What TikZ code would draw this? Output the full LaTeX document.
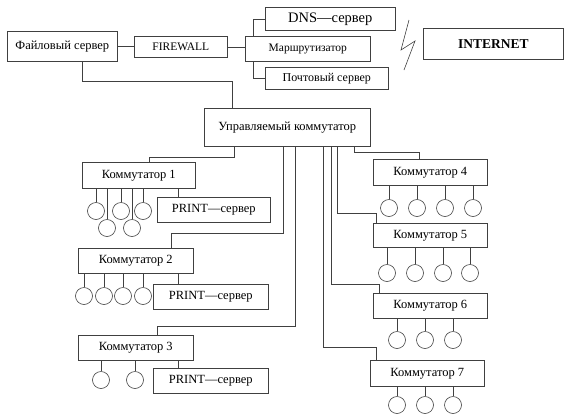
\documentclass[tikz,border=0pt]{standalone}
\usepackage{fontspec}
\setmainfont{Liberation Serif}
\begin{document}
\begin{tikzpicture}[x=1pt,y=-1pt,
  line width=0.6pt, draw=black!75,
  box/.style={draw=black!75, anchor=north west, inner sep=0pt, font=\fontsize{12.5}{14}\selectfont},
  smallbox/.style={box, font=\fontsize{11.5}{13}\selectfont},
  pc/.style={draw=black!75, circle, inner sep=0pt, minimum size=17pt},
  link/.style={draw=black!75, line width=0.6pt}]
\useasboundingbox (0,0) rectangle (565,413);
% top row
\node[box, minimum width=110pt, minimum height=30pt] (fs) at (7,31) {Файловый сервер};
\node[smallbox, minimum width=93pt, minimum height=21pt] (fw) at (134,36) {FIREWALL};
\node[smallbox, minimum width=125pt, minimum height=25pt] (rt) at (245,36) {Маршрутизатор};
\node[box, font=\fontsize{14.5}{16}\selectfont, minimum width=130pt, minimum height=23pt] (dns) at (265,7) {DNS—сервер};
\node[box, font=\fontsize{12}{14}\selectfont, minimum width=123pt, minimum height=22pt] (mail) at (265,67) {Почтовый сервер};
\node[box, font=\fontsize{13.5}{15}\selectfont\bfseries, minimum width=140pt, minimum height=31pt] (inet) at (423,28) {INTERNET};
\coordinate (z1) at (409,20);
\coordinate (z2) at (401,50);
\coordinate (z3) at (415,41);
\coordinate (z4) at (404,70);
\draw[link] (z1) -- (z2) -- (z3) -- (z4);
% main switch
\node[box, minimum width=166pt, minimum height=38pt] (upr) at (204,108) {Управляемый коммутатор};
% left switches
\node[box, minimum width=113pt, minimum height=26pt] (k1) at (82,162) {Коммутатор 1};
\node[box, minimum width=113pt, minimum height=25pt] (p1) at (157,197) {PRINT—сервер};
\node[box, minimum width=115pt, minimum height=25pt] (k2) at (78,248) {Коммутатор 2};
\node[box, minimum width=115pt, minimum height=25pt] (p2) at (153,284) {PRINT—сервер};
\node[box, minimum width=115pt, minimum height=25pt] (k3) at (78,335) {Коммутатор 3};
\node[box, minimum width=115pt, minimum height=25pt] (p3) at (153,368) {PRINT—сервер};
% right switches
\node[box, minimum width=114pt, minimum height=26pt] (k4) at (373,159) {Коммутатор 4};
\node[box, minimum width=114pt, minimum height=24pt] (k5) at (373,223) {Коммутатор 5};
\node[box, minimum width=114pt, minimum height=25pt] (k6) at (373,293) {Коммутатор 6};
\node[box, minimum width=114pt, minimum height=26pt] (k7) at (370,360) {Коммутатор 7};
% top connectors
\draw[link] (fs.east) -- (fw.west |- fs.east);
\draw[link] (fw.east) -- (rt.west |- fw.east);
\draw[link] (rt.north -| 253,0) |- (dns.west);
\draw[link] (rt.south -| 253,0) |- (mail.west);
\draw[link] (fs.south -| 82,0) |- (232,81) -- (upr.north -| 232,0);
% switch connectors
\draw[link] (upr.south -| 234,0) |- (149,157) -- (k1.north -| 149,0);
\draw[link] (upr.south -| 283,0) |- (171,233) -- (k2.north -| 171,0);
\draw[link] (upr.south -| 295,0) |- (157,326) -- (k3.north -| 157,0);
\draw[link] (upr.south -| 354,0) |- (419,152) -- (k4.north -| 419,0);
\draw[link] (upr.south -| 337,0) |- (376,213) -- (k5.north -| 376,0);
\draw[link] (upr.south -| 331,0) |- (379,284) -- (k6.north -| 379,0);
\draw[link] (upr.south -| 323,0) |- (376,347) -- (k7.north -| 376,0);
% print servers
\draw[link] (k1.south -| 178,0) -- (p1.north -| 178,0);
\draw[link] (k2.south -| 178,0) -- (p2.north -| 178,0);
\draw[link] (k3.south -| 178,0) -- (p3.north -| 178,0);
% computers
\foreach \n/\x/\y/\k in {c11/96/211/k1, c12/121/211/k1, c13/143/211/k1, c14/107/228/k1, c15/132/228/k1,
  c21/84/296/k2, c22/104/296/k2, c23/123/296/k2, c24/143/296/k2,
  c31/101/380/k3, c32/135/380/k3,
  c41/389/208/k4, c42/417/208/k4, c43/445/208/k4, c44/473/208/k4,
  c51/387/273/k5, c52/415/273/k5, c53/443/273/k5, c54/470/273/k5,
  c61/397/340/k6, c62/425/340/k6, c63/453/340/k6,
  c71/397/405/k7, c72/425/405/k7, c73/453/405/k7}{
  \node[pc] (\n) at (\x,\y) {};
  \draw[link] (\n.north) -- (\n.north |- \k.south);
}
\end{tikzpicture}
\end{document}
